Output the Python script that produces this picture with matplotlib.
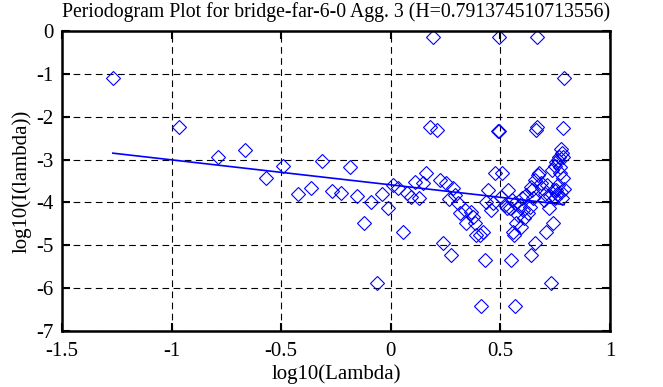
#!/usr/bin/env python3
# Periodogram plot, gnuplot look
import numpy as np
import matplotlib
matplotlib.use("Agg")
import matplotlib.pyplot as plt

hurst = 0.791374510713556
intercept = -3.59

log_lambda = [
    -1.268, -0.967, -0.790, -0.666, -0.569, -0.490, -0.423, -0.366, -0.314, -0.268,
    -0.226, -0.188, -0.154, -0.123, -0.092, -0.065, -0.038, -0.014, 0.012, 0.033,
    0.054, 0.075, 0.094, 0.112, 0.130, 0.147, 0.163, 0.179, 0.193, 0.209,
    0.224, 0.237, 0.251, 0.264, 0.276, 0.284, 0.291, 0.306, 0.314, 0.337,
    0.345, 0.367, 0.375, 0.385, 0.390, 0.405, 0.413, 0.420, 0.428, 0.435,
    0.443, 0.458, 0.466, 0.477, 0.488, 0.493, 0.496, 0.504, 0.509, 0.519,
    0.528, 0.535, 0.542, 0.549, 0.552, 0.557, 0.563, 0.565, 0.567, 0.572,
    0.580, 0.588, 0.595, 0.600, 0.603, 0.610, 0.618, 0.625, 0.633, 0.638,
    0.641, 0.645, 0.648, 0.656, 0.658, 0.663, 0.666, 0.668, 0.671, 0.678,
    0.684, 0.690, 0.697, 0.703, 0.709, 0.715, 0.724, 0.728, 0.732, 0.736,
    0.739, 0.744, 0.748, 0.751, 0.754, 0.756, 0.760, 0.762, 0.765, 0.768,
    0.770, 0.773, 0.775, 0.777, 0.780, 0.782, 0.785, 0.786, 0.788, 0.790,
    0.791,
]
log_i = [
    -1.10, -2.25, -2.93, -2.77, -3.44, -3.15, -3.81, -3.66, -3.03, -3.74,
    -3.79, -3.17, -3.84, -4.49, -4.00, -5.87, -3.80, -4.14, -3.59, -3.67,
    -4.68, -3.79, -3.87, -3.52, -3.90, -3.55, -3.32, -2.23, -0.15, -2.31,
    -3.47, -4.95, -3.55, -3.92, -5.23, -3.67, -3.83, -4.02, -4.25, -4.18,
    -4.49, -4.22, -4.33, -4.49, -4.76, -4.76, -6.42, -4.68, -5.34, -3.98,
    -3.71, -4.18, -4.02, -3.31, -2.33, -0.15, -2.33, -3.87, -3.31, -4.06,
    -4.12, -3.71, -4.14, -5.34, -3.95, -4.68, -4.76, -4.02, -6.42, -4.49,
    -4.29, -4.05, -4.57, -3.90, -4.18, -4.37, -3.83, -4.25, -4.10, -3.63,
    -5.23, -3.71, -3.90, -3.48, -4.95, -2.31, -2.25, -0.15, -3.36, -3.32,
    -3.55, -3.66, -3.95, -3.80, -4.68, -3.60, -4.14, -3.85, -5.87, -3.24,
    -4.49, -3.70, -3.90, -3.14, -3.05, -3.71, -3.80, -3.01, -3.60, -2.93,
    -3.32, -3.17, -3.75, -2.76, -3.90, -2.85, -2.93, -3.44, -2.26, -3.68,
    -1.09,
]

plt.rcParams["font.family"] = ["Liberation Serif", "DejaVu Serif"]
plt.rcParams["font.size"] = 15
plt.rcParams["axes.unicode_minus"] = False

fig = plt.figure(figsize=(6.63, 3.87), dpi=100)
ax = fig.add_axes([0.0935, 0.1447, 0.8265, 0.7753])

ax.plot(log_lambda, log_i, linestyle="none", marker="D", markersize=7.3,
        markerfacecolor="none", markeredgecolor="#0000ff", markeredgewidth=0.8)

# fitted line, slope = 1 - 2H
slope = 1 - 2 * hurst
fx = np.array([min(log_lambda), max(log_lambda)])
ax.plot(fx, intercept + slope * fx, color="#0000ff", linewidth=1.2)

ax.set_xlim(-1.5, 1)
ax.set_ylim(-7, 0)
ax.set_xticks([-1.5, -1, -0.5, 0, 0.5, 1])
ax.set_xticklabels(["-1.5", "-1", "-0.5", "0", "0.5", "1"])
ax.set_yticks(range(-7, 1))
ax.grid(True, color="black", linestyle=(0, (6, 4)), linewidth=0.8)
ax.tick_params(direction="in", length=6, width=1.5, top=True, right=True)
ax.tick_params(axis="x", pad=8)
ax.tick_params(axis="y", pad=6)
for s in ax.spines.values():
    s.set_linewidth(1.8)

ax.set_title("Periodogram Plot for bridge-far-6-0 Agg. 3 (H=0.791374510713556)",
             fontsize=14.2, pad=10)
ax.set_xlabel("log10(Lambda)", labelpad=2)
ax.set_ylabel("log10(I(lambda))", labelpad=3)

fig.savefig("out.png", dpi=100)
